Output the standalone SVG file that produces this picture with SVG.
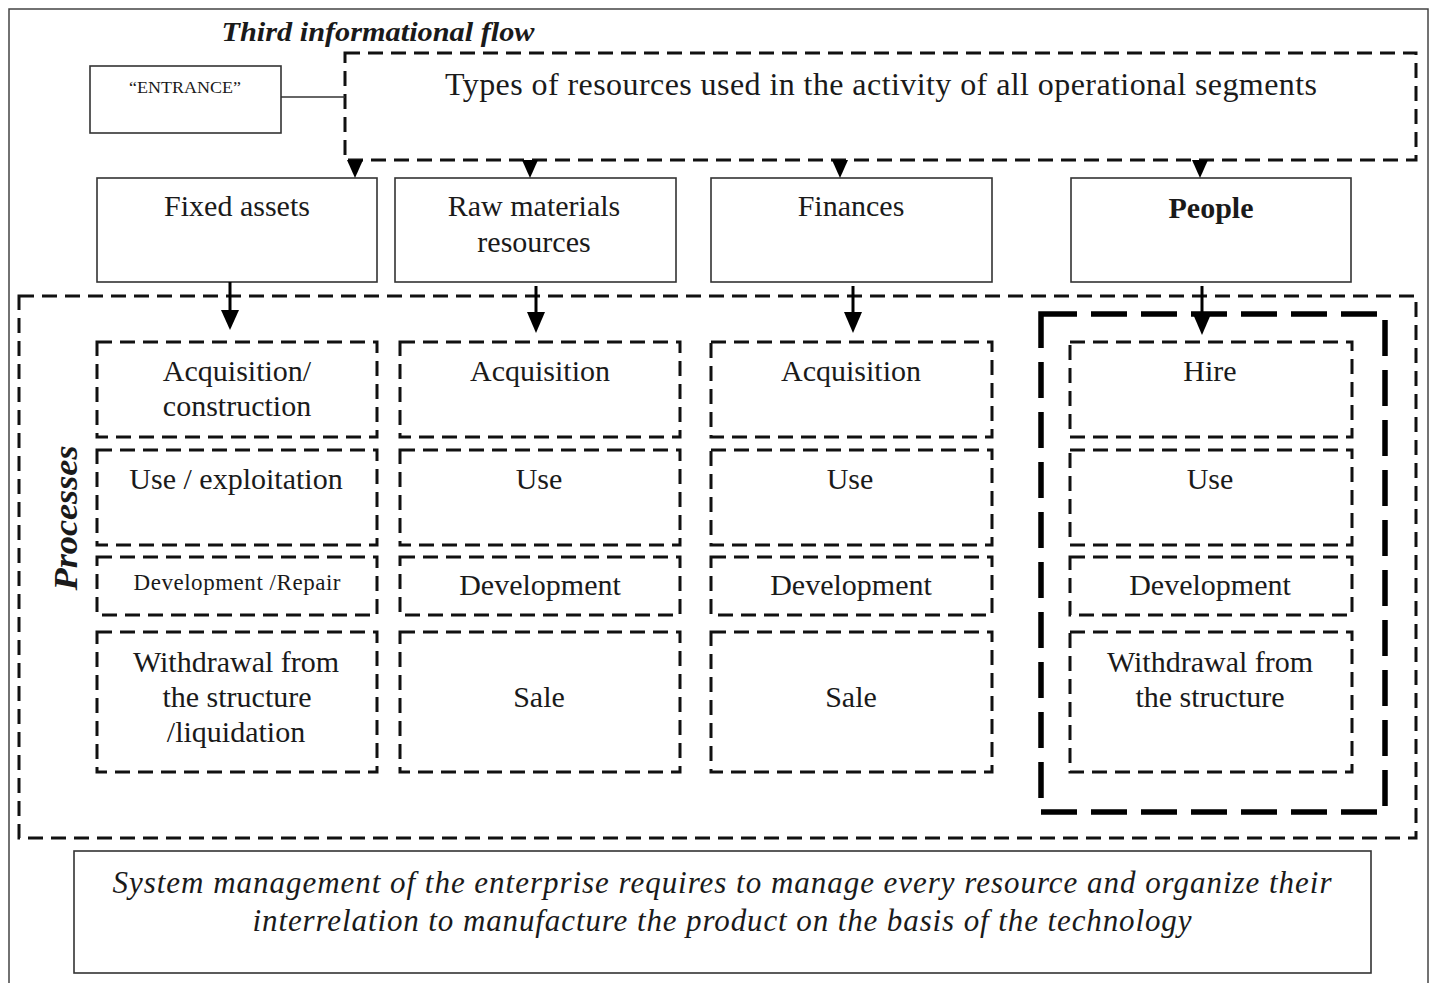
<svg xmlns="http://www.w3.org/2000/svg" width="1431" height="983" viewBox="0 0 1431 983">
<style>
text{font-family:"Liberation Serif","Times New Roman",serif;fill:#1a1a1a;text-anchor:middle}
.solid{fill:#fff;stroke:#333;stroke-width:1.6}
.dash{fill:none;stroke:#111;stroke-width:3;stroke-dasharray:15 8}
.bigdash{fill:none;stroke:#000;stroke-width:5.5;stroke-dasharray:36 14}
.t30{font-size:30px}
.conn{stroke:#000;stroke-width:3;fill:none}
.tri{fill:#000}
</style>
<rect x="0" y="0" width="1431" height="983" fill="#fff"/>
<rect id="frame" x="9" y="9" width="1419" height="990" fill="none" stroke="#444" stroke-width="1.5"/>
<text x="378" y="41" font-size="27" font-weight="bold" font-style="italic" textLength="313" lengthAdjust="spacingAndGlyphs">Third informational flow</text>

<g id="entrance">
<rect class="solid" x="90" y="66" width="191" height="67"/>
<text x="185" y="93" font-size="17" textLength="112" lengthAdjust="spacingAndGlyphs">“ENTRANCE”</text>
</g>
<g id="types">
<rect class="dash" x="345" y="53" width="1071" height="107"/>
<text x="881" y="95" font-size="32" textLength="872" lengthAdjust="spacing">Types of resources used in the activity of all operational segments</text>
</g>

<g id="fixed-assets"><rect class="solid" x="97" y="178" width="280" height="104"/><text class="t30" x="237" y="216">Fixed assets</text></g>
<g id="raw-materials"><rect class="solid" x="395" y="178" width="281" height="104"/><text class="t30" x="534" y="216">Raw materials</text><text class="t30" x="534" y="252">resources</text></g>
<g id="finances"><rect class="solid" x="711" y="178" width="281" height="104"/><text class="t30" x="851" y="216">Finances</text></g>
<g id="people"><rect class="solid" x="1071" y="178" width="280" height="104"/><text class="t30" x="1211" y="218" font-weight="bold">People</text></g>

<g id="processes">
<rect class="dash" x="19" y="296" width="1397" height="542"/>
<text x="0" y="0" font-size="34" font-weight="bold" font-style="italic" textLength="145" lengthAdjust="spacingAndGlyphs" transform="translate(77,518) rotate(-90)">Processes</text>
</g>

<g id="people-processes">
<rect class="bigdash" x="1041" y="314" width="344" height="498"/>
</g>

<g id="col1">
<g id="fa-acq"><rect class="dash" x="97" y="342" width="280" height="95"/><text class="t30" x="237" y="381">Acquisition/</text><text class="t30" x="237" y="416">construction</text></g>
<g id="fa-use"><rect class="dash" x="97" y="450" width="280" height="95"/><text class="t30" x="236" y="489">Use / exploitation</text></g>
<g id="fa-dev"><rect class="dash" x="97" y="557" width="280" height="58"/><text x="237" y="590" font-size="23" textLength="207" lengthAdjust="spacing">Development /Repair</text></g>
<g id="fa-wd"><rect class="dash" x="97" y="632" width="280" height="140"/><text class="t30" x="236" y="672">Withdrawal from</text><text class="t30" x="237" y="707">the structure</text><text class="t30" x="236" y="742">/liquidation</text></g>
</g>

<g id="col2">
<g id="rm-acq"><rect class="dash" x="400" y="342" width="280" height="95"/><text class="t30" x="540" y="381">Acquisition</text></g>
<g id="rm-use"><rect class="dash" x="400" y="450" width="280" height="95"/><text class="t30" x="539" y="489">Use</text></g>
<g id="rm-dev"><rect class="dash" x="400" y="557" width="280" height="58"/><text class="t30" x="540" y="595">Development</text></g>
<g id="rm-sale"><rect class="dash" x="400" y="632" width="280" height="140"/><text class="t30" x="539" y="707">Sale</text></g>
</g>

<g id="col3">
<g id="fi-acq"><rect class="dash" x="711" y="342" width="281" height="95"/><text class="t30" x="851" y="381">Acquisition</text></g>
<g id="fi-use"><rect class="dash" x="711" y="450" width="281" height="95"/><text class="t30" x="850" y="489">Use</text></g>
<g id="fi-dev"><rect class="dash" x="711" y="557" width="281" height="58"/><text class="t30" x="851" y="595">Development</text></g>
<g id="fi-sale"><rect class="dash" x="711" y="632" width="281" height="140"/><text class="t30" x="851" y="707">Sale</text></g>
</g>

<g id="col4">
<g id="pe-hire"><rect class="dash" x="1070" y="342" width="282" height="95"/><text class="t30" x="1210" y="381">Hire</text></g>
<g id="pe-use"><rect class="dash" x="1070" y="450" width="282" height="95"/><text class="t30" x="1210" y="489">Use</text></g>
<g id="pe-dev"><rect class="dash" x="1070" y="557" width="282" height="58"/><text class="t30" x="1210" y="595">Development</text></g>
<g id="pe-wd"><rect class="dash" x="1070" y="632" width="282" height="140"/><text class="t30" x="1210" y="672">Withdrawal from</text><text class="t30" x="1210" y="707">the structure</text></g>
</g>

<g id="summary">
<rect class="solid" x="74" y="851" width="1297" height="122"/>
<text x="722" y="893" font-size="31" font-style="italic" textLength="1219" lengthAdjust="spacing">System management of the enterprise requires to manage every resource and organize their</text>
<text x="722" y="931" font-size="31" font-style="italic" textLength="939" lengthAdjust="spacing">interrelation to manufacture the product on the basis of the technology</text>
</g>

<g id="connectors">
<line x1="281" y1="97" x2="345" y2="97" stroke="#333" stroke-width="1.6"/>
<path class="tri" d="M347,160 L363,160 L355,178 Z"/>
<path class="tri" d="M522,160 L538,160 L530,178 Z"/>
<path class="tri" d="M832,160 L848,160 L840,178 Z"/>
<path class="tri" d="M1192,160 L1208,160 L1200,178 Z"/>
<line class="conn" x1="230" y1="282" x2="230" y2="312"/>
<path class="tri" d="M221,310 L239,310 L230,330 Z"/>
<line class="conn" x1="536" y1="286" x2="536" y2="314"/>
<path class="tri" d="M527,312 L545,312 L536,333 Z"/>
<line class="conn" x1="853" y1="286" x2="853" y2="314"/>
<path class="tri" d="M844,312 L862,312 L853,333 Z"/>
<line class="conn" x1="1202" y1="286" x2="1202" y2="316"/>
<path class="tri" d="M1193,314 L1211,314 L1202,335 Z"/>
</g>
</svg>
